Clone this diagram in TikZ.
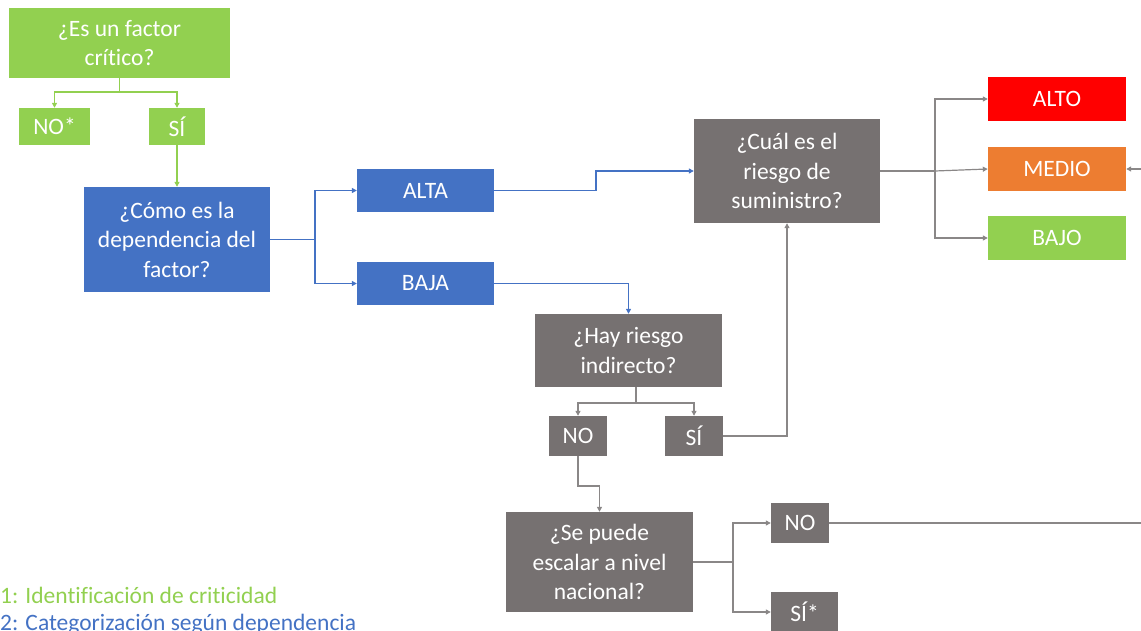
\documentclass[tikz,border=0pt]{standalone}
\usepackage{fontspec}
\setmainfont[Ligatures=NoCommon]{Carlito}
\usetikzlibrary{arrows.meta}
\definecolor{verde}{HTML}{92D050}
\definecolor{azul}{HTML}{4472C4}
\definecolor{gris}{HTML}{767171}
\definecolor{grislinea}{HTML}{8A8787}
\definecolor{rojo}{HTML}{FF0000}
\definecolor{naranja}{HTML}{ED7D31}
\tikzset{
    %Define standard arrow tip
    >={Triangle[length=5pt,width=5pt]},
    caja/.style={
      rectangle,
      inner sep=0pt,
      text=white,
      align=center,
      font=\fontsize{23.5}{29.5}\selectfont},
    tam/.style 2 args={
      minimum width=#1pt,
      minimum height=#2pt},
    cverde/.style={caja, fill=verde},
    cazul/.style={caja, fill=azul},
    cgris/.style={caja, fill=gris},
    lverde/.style={draw=verde, line width=1.2pt},
    lazul/.style={draw=azul, line width=1.2pt},
    lgris/.style={draw=grislinea, line width=1.2pt},
    leyenda/.style={
      anchor=base west,
      inner sep=0pt,
      font=\fontsize{23.5}{28}\selectfont},
}
\begin{document}
\begin{tikzpicture}[x=1pt,y=-1pt]
    \useasboundingbox (0,0) rectangle (1141,631);
    \clip (0,0) rectangle (1141,631);
    % fase 1
    \node (crit) [cverde,tam={221}{70}] at (119.5,43)
          {¿Es un factor\\crítico?};
    \node (noA) [cverde,tam={71}{37}] at (54.5,126.5) {NO*};
    \node (siA) [cverde,tam={56}{37}] at (177,126.5) {SÍ};
    % fase 2
    \node (dep) [cazul,tam={186}{105}] at (177,239.5)
          {¿Cómo es la\\dependencia del\\factor?};
    \node (alta) [cazul,tam={137}{43}] at (425.5,190.5) {ALTA};
    \node (baja) [cazul,tam={137}{43}] at (425.5,283.5) {BAJA};
    % riesgo
    \node (cual) [cgris,tam={186}{104}] at (787,171)
          {¿Cuál es el\\riesgo de\\suministro?};
    \node (hay) [cgris,tam={187}{73}] at (628.5,350.5)
          {¿Hay riesgo\\indirecto?};
    \node (noB) [cgris,tam={58}{40}] at (578,436) {NO};
    \node (siB) [cgris,tam={58}{40}] at (694,436) {SÍ};
    \node (escala) [cgris,tam={187}{100}] at (599.5,562)
          {¿Se puede\\escalar a nivel\\nacional?};
    \node (noC) [cgris,tam={58}{40}] at (800,523) {NO};
    \node (siC) [cgris,tam={67}{40}] at (804.5,612) {SÍ*};
    \node (alto) [caja,fill=rojo,tam={138}{44}] at (1057,99) {ALTO};
    \node (medio) [caja,fill=naranja,tam={138}{44}] at (1057,169) {MEDIO};
    \node (bajo) [caja,fill=verde,tam={138}{44}] at (1057,238) {BAJO};
    % leyenda
    \node (ley1) [leyenda,text=verde] at (0,603)
          {1: Identificación de criticidad};
    \node (ley2) [leyenda,text=azul] at (0,630)
          {2: Categorización según dependencia};
    % puntos de giro
    \coordinate (critRam) at (119.5,92);
    \coordinate (depRam) at (315,239.5);
    \coordinate (altaCodo) at (596,190.5);
    \coordinate (hayRam) at (636,403);
    \coordinate (noCodo) at (578,486);
    \coordinate (escRam) at (733,562);
    \coordinate (cualRam) at (935,171);
    \coordinate (bordeNO) at (1141,523);
    \coordinate (bordeMED) at (1141,169);
    % conectores
    \draw[lverde] (crit.south) -- (critRam);
    \draw[lverde,->] (critRam) -| (noA.north);
    \draw[lverde,->] (critRam) -| (siA.north);
    \draw[lverde,->] (siA.south) -- (dep.north);
    \draw[lazul] (dep.east) -- (depRam);
    \draw[lazul,->] (depRam) |- (alta.west);
    \draw[lazul,->] (depRam) |- (baja.west);
    \draw[lazul,->] (alta.east) -- (altaCodo) |- (cual.west);
    \draw[lazul,->] (baja.east) -| (hay.north);
    \draw[lgris] (hayRam |- hay.south) -- (hayRam);
    \draw[lgris,->] (hayRam) -| (noB.north);
    \draw[lgris,->] (hayRam) -| (siB.north);
    \draw[lgris,->] (siB.east) -| (cual.south);
    \draw[lgris,->] (noB.south) -- (noCodo) -| (escala.north);
    \draw[lgris] (escala.east) -- (escRam);
    \draw[lgris,->] (escRam) |- (noC.west);
    \draw[lgris,->] (escRam) |- (siC.west);
    \draw[lgris] (noC.east) -- (bordeNO);
    \draw[lgris] (cual.east) -- (cualRam);
    \draw[lgris,->] (cualRam) |- (alto.west);
    \draw[lgris,->] (cualRam) -- (medio.west);
    \draw[lgris,->] (cualRam) |- (bajo.west);
    \draw[lgris,->] (bordeMED) -- (medio.east);
\end{tikzpicture}
\end{document}
